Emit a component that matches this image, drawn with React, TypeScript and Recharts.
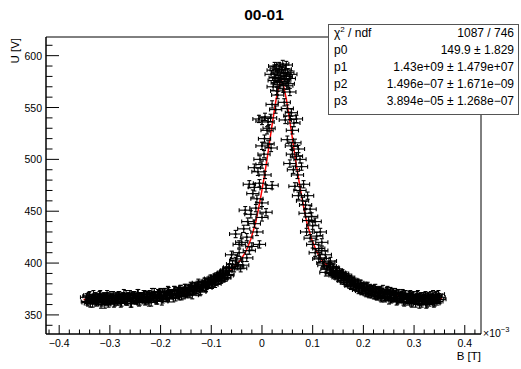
import React from 'react';
import { ComposedChart, Scatter, Line, XAxis, YAxis, ErrorBar, ReferenceArea } from 'recharts';

const title = '00-01';
const xTitle = 'B [T]';
const yTitle = 'U [V]';
const xExponent = '−3';

// measured points [B (10^-3 T), U (V)]
const leftTail: [number, number][] = [
  [-0.346, 367], [-0.343, 362], [-0.34, 369], [-0.337, 364], [-0.334, 361], [-0.331, 366], [-0.328, 368], [-0.325, 363],
  [-0.322, 365], [-0.319, 370], [-0.316, 362], [-0.313, 367], [-0.31, 360], [-0.307, 366], [-0.304, 368], [-0.301, 363],
  [-0.298, 369], [-0.295, 364], [-0.292, 361], [-0.289, 367], [-0.286, 363], [-0.283, 369], [-0.28, 366], [-0.277, 362],
  [-0.274, 368], [-0.271, 365], [-0.268, 370], [-0.265, 363], [-0.262, 367], [-0.259, 361], [-0.256, 366], [-0.253, 369],
  [-0.25, 364], [-0.247, 367], [-0.244, 371], [-0.241, 363], [-0.238, 368], [-0.235, 365], [-0.232, 370], [-0.229, 364],
  [-0.226, 368], [-0.223, 362], [-0.22, 367], [-0.217, 372], [-0.214, 366], [-0.211, 369], [-0.208, 364], [-0.205, 371],
  [-0.202, 367], [-0.199, 369], [-0.196, 365], [-0.193, 372], [-0.19, 368], [-0.187, 366], [-0.184, 373], [-0.181, 369],
  [-0.178, 371], [-0.175, 366], [-0.172, 374], [-0.169, 370], [-0.166, 373], [-0.163, 368], [-0.16, 375], [-0.157, 371],
  [-0.154, 369], [-0.151, 376], [-0.148, 372], [-0.145, 375], [-0.142, 370], [-0.139, 377], [-0.136, 373], [-0.133, 378],
  [-0.13, 374], [-0.127, 379], [-0.124, 376], [-0.121, 373], [-0.118, 380], [-0.115, 377], [-0.112, 382], [-0.109, 378],
  [-0.106, 383], [-0.103, 380], [-0.1, 384], [-0.097, 381], [-0.094, 386], [-0.091, 382], [-0.088, 387], [-0.085, 383],
  [-0.082, 389], [-0.079, 385], [-0.076, 391], [-0.073, 386], [-0.07, 393], [-0.067, 389], [-0.064, 396],
];

const leftTail2: [number, number][] = [
  [-0.3445, 363], [-0.3415, 368], [-0.3385, 361], [-0.3355, 366], [-0.3325, 370], [-0.3295, 364], [-0.3265, 362], [-0.3235, 367],
  [-0.3205, 369], [-0.3175, 360], [-0.3145, 365], [-0.3115, 368], [-0.3085, 363], [-0.3055, 370], [-0.3025, 361], [-0.2995, 367],
  [-0.2965, 364], [-0.2935, 369], [-0.2905, 362], [-0.2875, 368], [-0.2845, 363], [-0.2815, 369], [-0.2785, 361], [-0.2755, 367],
  [-0.2725, 371], [-0.2695, 365], [-0.2665, 363], [-0.2635, 368], [-0.2605, 370], [-0.2575, 361], [-0.2545, 366], [-0.2515, 369],
  [-0.2485, 364], [-0.2455, 371], [-0.2425, 362], [-0.2395, 368], [-0.2365, 366], [-0.2335, 370], [-0.2305, 363], [-0.2275, 369],
  [-0.2245, 364], [-0.2215, 370], [-0.2185, 362], [-0.2155, 368], [-0.2125, 372], [-0.2095, 366], [-0.2065, 364], [-0.2035, 370],
  [-0.2005, 372], [-0.1975, 363], [-0.1945, 369], [-0.1915, 372], [-0.1885, 367], [-0.1855, 374], [-0.1825, 366], [-0.1795, 371],
  [-0.1765, 369], [-0.1735, 374], [-0.1705, 367], [-0.1675, 373], [-0.1645, 369], [-0.1615, 375], [-0.1585, 368], [-0.1555, 373],
  [-0.1525, 376], [-0.1495, 370], [-0.1465, 371], [-0.1435, 376], [-0.1405, 378], [-0.1375, 369], [-0.1345, 375], [-0.1315, 377],
  [-0.1285, 374], [-0.1255, 381], [-0.1225, 372], [-0.1195, 378], [-0.1165, 377], [-0.1135, 382], [-0.1105, 376], [-0.1075, 381],
  [-0.1045, 379], [-0.1015, 385], [-0.0985, 379], [-0.0955, 384], [-0.0925, 380], [-0.0895, 387], [-0.0865, 383], [-0.0835, 388],
  [-0.0805, 384], [-0.0775, 390], [-0.0745, 386], [-0.0715, 392], [-0.0685, 388], [-0.0655, 395],
];

const peak: [number, number][] = [
  [0.018, 582], [0.022, 586], [0.026, 579], [0.028, 588], [0.031, 584], [0.034, 590], [0.036, 581], [0.039, 586],
  [0.041, 592], [0.043, 583], [0.046, 587], [0.048, 580], [0.051, 584], [0.054, 578], [0.057, 582], [0.024, 576],
  [0.045, 577], [0.033, 578], [0.03, 574], [0.038, 575], [0.052, 573], [0.025, 590], [0.048, 591],
  [0.022, 570], [0.029, 566], [0.035, 572], [0.042, 568], [0.049, 571], [0.055, 565], [0.031, 562],
  [0.02, 553], [0.027, 548], [0.044, 555], [0.05, 549], [0.058, 545],
  [-0.006, 539], [0.0, 537], [0.006, 541], [0.012, 536], [0.017, 540], [0.046, 538], [0.055, 542], [0.063, 535], [0.068, 539],
  [0.01, 528], [0.014, 530], [0.06, 528],
  [0.005, 520], [0.012, 515], [0.018, 511], [0.0, 513], [0.05, 519], [0.058, 513], [0.065, 516], [0.072, 510],
  [0.004, 505], [-0.004, 500], [0.068, 503], [0.075, 500], [0.06, 505],
  [-0.015, 492], [-0.008, 488], [0.0, 495], [0.006, 485], [0.055, 496], [0.062, 490], [0.07, 485], [0.078, 493],
  [-0.025, 476], [-0.015, 473], [-0.005, 477], [0.008, 472], [0.02, 475], [0.065, 474], [0.075, 470], [0.082, 476],
  [0.072, 465], [0.08, 460], [0.086, 456], [-0.01, 462], [0.0, 458], [-0.018, 467], [0.09, 465],
  [-0.033, 451], [-0.022, 447], [-0.012, 453], [0.0, 444], [0.008, 449], [0.085, 448], [0.092, 441], [0.098, 445],
  [-0.028, 440], [-0.036, 433], [-0.015, 438], [0.095, 452], [0.1, 436], [0.105, 440],
  [-0.052, 428], [-0.04, 420], [-0.03, 425], [-0.02, 416], [-0.01, 430], [-0.005, 418], [0.088, 430], [0.095, 424],
  [0.1, 418], [0.108, 426], [0.112, 414], [0.118, 420], [-0.045, 418], [0.115, 430],
  [-0.06, 408], [-0.052, 402], [-0.045, 410], [-0.038, 398], [-0.03, 405], [-0.025, 412], [-0.042, 395], [0.105, 410],
  [0.112, 404], [0.12, 400], [0.125, 408], [0.13, 396], [0.135, 402], [0.118, 412],
  [-0.058, 399], [-0.05, 404], [-0.048, 397], [-0.055, 395], [0.122, 398], [0.128, 394], [0.132, 401], [0.115, 405], [0.126, 391],
];

const rightTail: [number, number][] = [
  [0.135, 397], [0.138, 390], [0.141, 395], [0.144, 388], [0.147, 393], [0.15, 386], [0.153, 391], [0.156, 385],
  [0.159, 390], [0.162, 383], [0.165, 388], [0.168, 381], [0.171, 386], [0.174, 379], [0.177, 384], [0.18, 378],
  [0.183, 382], [0.186, 376], [0.189, 381], [0.192, 375], [0.195, 380], [0.198, 374], [0.201, 378], [0.204, 372],
  [0.207, 377], [0.21, 371], [0.213, 376], [0.216, 370], [0.219, 375], [0.222, 369], [0.225, 374], [0.228, 368],
  [0.231, 373], [0.234, 367], [0.237, 372], [0.24, 369], [0.243, 366], [0.246, 373], [0.249, 367], [0.252, 371],
  [0.255, 365], [0.258, 372], [0.261, 366], [0.264, 370], [0.267, 364], [0.27, 371], [0.273, 365], [0.276, 369],
  [0.279, 363], [0.282, 370], [0.285, 366], [0.288, 363], [0.291, 369], [0.294, 362], [0.297, 368], [0.3, 365],
  [0.303, 361], [0.306, 369], [0.309, 363], [0.312, 367], [0.315, 361], [0.318, 368], [0.321, 364], [0.324, 360],
  [0.327, 367], [0.33, 362], [0.333, 369], [0.336, 364], [0.339, 361], [0.342, 368], [0.345, 363], [0.348, 370],
  [0.351, 365],
];

const rightTail2: [number, number][] = [
  [0.1365, 391], [0.1395, 396], [0.1425, 389], [0.1455, 393], [0.1485, 392], [0.1515, 387], [0.1545, 389], [0.1575, 388],
  [0.1605, 383], [0.1635, 387], [0.1665, 381], [0.1695, 385], [0.1725, 383], [0.1755, 378], [0.1785, 383], [0.1815, 377],
  [0.1845, 380], [0.1875, 379], [0.1905, 374], [0.1935, 380], [0.1965, 373], [0.1995, 377], [0.2025, 376], [0.2055, 371],
  [0.2085, 378], [0.2115, 370], [0.2145, 374], [0.2175, 375], [0.2205, 369], [0.2235, 376], [0.2265, 368], [0.2295, 372],
  [0.2325, 374], [0.2355, 366], [0.2385, 375], [0.2415, 367], [0.2445, 371], [0.2475, 374], [0.2505, 364], [0.2535, 373],
  [0.2565, 366], [0.2595, 370], [0.2625, 372], [0.2655, 363], [0.2685, 371], [0.2715, 366], [0.2745, 368], [0.2775, 371],
  [0.2805, 362], [0.2835, 370], [0.2865, 365], [0.2895, 367], [0.2925, 370], [0.2955, 361], [0.2985, 369], [0.3015, 364],
  [0.3045, 366], [0.3075, 370], [0.3105, 360], [0.3135, 368], [0.3165, 363], [0.3195, 366], [0.3225, 369], [0.3255, 361],
  [0.3285, 368], [0.3315, 364], [0.3345, 366], [0.3375, 370], [0.3405, 362], [0.3435, 369], [0.3465, 365], [0.3495, 367],
];

const errB = 0.012;
const errU = 3.5;

// fitted curve
const fitB = [
  -0.352, -0.322, -0.282, -0.242, -0.202, -0.162, -0.142, -0.122, -0.102, -0.082, -0.062, -0.052, -0.042, -0.032,
  -0.022, -0.012, -0.007, -0.002, 0.003, 0.008, 0.013, 0.018, 0.023, 0.028, 0.033, 0.038, 0.043, 0.048, 0.053, 0.058,
  0.063, 0.068, 0.073, 0.078, 0.083, 0.088, 0.098, 0.108, 0.118, 0.128, 0.138, 0.158, 0.178, 0.198, 0.218, 0.238,
  0.278, 0.318, 0.355,
];
const fitU = [
  364.8, 365, 365.5, 366.5, 368, 371, 373, 376, 380, 386, 393, 398, 403, 411,
  423, 440, 452, 465, 479, 494, 510, 527, 543, 558, 570, 577, 570, 558, 543, 527,
  510, 494, 479, 465, 452, 440, 423, 411, 403, 398, 393, 386, 380, 376, 373, 371,
  368, 366.5, 365.5,
];

const xDomain = [-0.426, 0.432];
const yDomain = [331.6, 618];
const xTicks = [
  -0.42, -0.4, -0.38, -0.36, -0.34, -0.32, -0.3, -0.28, -0.26, -0.24, -0.22, -0.2, -0.18, -0.16, -0.14, -0.12, -0.1,
  -0.08, -0.06, -0.04, -0.02, 0, 0.02, 0.04, 0.06, 0.08, 0.1, 0.12, 0.14, 0.16, 0.18, 0.2, 0.22, 0.24, 0.26, 0.28,
  0.3, 0.32, 0.34, 0.36, 0.38, 0.4, 0.42,
];
const xMajor = [-0.4, -0.3, -0.2, -0.1, 0, 0.1, 0.2, 0.3, 0.4];
const xLabels = ['−0.4', '−0.3', '−0.2', '−0.1', '0', '0.1', '0.2', '0.3', '0.4'];
const yTicks = [340, 350, 360, 370, 380, 390, 400, 410, 420, 430, 440, 450, 460, 470, 480, 490, 500, 510, 520, 530, 540, 550, 560, 570, 580, 590, 600, 610];
const yMajor = [350, 400, 450, 500, 550, 600];
const yLabels = ['350', '400', '450', '500', '550', '600'];

const statNames = ['p0', 'p1', 'p2', 'p3'];
const statValues = ['149.9 ± 1.829', '1.43e+09 ± 1.479e+07', '1.496e−07 ± 1.671e−09', '3.894e−05 ± 1.268e−07'];
const chi2Value = '1087 / 746';

const FONT = "'Liberation Sans', Arial, Helvetica, sans-serif";

const XTick = (props: any) => {
  const { x, y, payload } = props;
  const idx = xMajor.findIndex((m) => Math.abs(m - payload.value) < 1e-9);
  const len = idx >= 0 ? 9 : 4.5;
  return (
    <g>
      <line x1={x} y1={y} x2={x} y2={y - len} stroke="#000" strokeWidth={1} />
      {idx >= 0 && (
        <text x={x} y={y + 13} textAnchor="middle" fontSize={10.5} fontFamily={FONT} fill="#000">
          {xLabels[idx]}
        </text>
      )}
    </g>
  );
};

const YTick = (props: any) => {
  const { x, y, payload } = props;
  const idx = yMajor.findIndex((m) => Math.abs(m - payload.value) < 1e-9);
  const len = idx >= 0 ? 13 : 6.5;
  return (
    <g>
      <line x1={x} y1={y} x2={x + len} y2={y} stroke="#000" strokeWidth={1} />
      {idx >= 0 && (
        <text x={x - 4} y={y + 4} textAnchor="end" fontSize={10.5} fontFamily={FONT} fill="#000">
          {yLabels[idx]}
        </text>
      )}
    </g>
  );
};

const Marker = (props: any) => {
  const { cx, cy } = props;
  return <rect x={cx - 1} y={cy - 1} width={2} height={2} fill="#000" />;
};

export default function App() {
  const scatterData = [...leftTail, ...leftTail2, ...peak, ...rightTail, ...rightTail2].map(([b, u]) => ({
    b,
    u,
    eb: errB,
    eu: errU,
  }));
  const fitData = fitB.map((b, i) => ({ b, u: fitU[i] }));
  return (
    <div style={{ position: 'absolute', left: 0, top: 0, width: 521, height: 369, background: '#fff' }}>
      <ComposedChart width={521} height={369} margin={{ top: 37, right: 40, bottom: 0, left: 6 }}>
        <XAxis
          type="number"
          dataKey="b"
          domain={xDomain}
          allowDataOverflow
          ticks={xTicks}
          interval={0}
          tick={XTick}
          tickLine={false}
          tickSize={0}
          tickMargin={0}
          height={35}
          axisLine={{ stroke: '#000' }}
        />
        <YAxis
          type="number"
          dataKey="u"
          domain={yDomain}
          allowDataOverflow
          ticks={yTicks}
          interval={0}
          tick={YTick}
          tickLine={false}
          tickSize={0}
          tickMargin={0}
          width={40}
          axisLine={{ stroke: '#000' }}
        />
        <ReferenceArea
          x1={xDomain[0]}
          x2={xDomain[1]}
          y1={yDomain[0]}
          y2={yDomain[1]}
          fill="none"
          fillOpacity={0}
          stroke="#000"
          strokeWidth={1}
          ifOverflow="visible"
        />
        <Line
          data={fitData}
          dataKey="u"
          type="linear"
          stroke="#ff0000"
          strokeWidth={1.5}
          dot={false}
          activeDot={false}
          isAnimationActive={false}
        />
        <Scatter data={scatterData} dataKey="u" shape={Marker} isAnimationActive={false}>
          <ErrorBar dataKey="eb" direction="x" width={2} stroke="#000" strokeWidth={1.1} />
          <ErrorBar dataKey="eu" direction="y" width={2} stroke="#000" strokeWidth={1.1} />
        </Scatter>
      </ComposedChart>
      <svg
        width={521}
        height={369}
        style={{ position: 'absolute', left: 0, top: 0, pointerEvents: 'none' }}
        fontFamily={FONT}
      >
        <text x={264} y={20} textAnchor="middle" fontSize={15.5} fontWeight="bold" fill="#000">
          {title}
        </text>
        <text transform="translate(19,38) rotate(-90)" textAnchor="end" fontSize={11.5} fill="#000">
          {yTitle}
        </text>
        <text x={481} y={360} textAnchor="end" fontSize={11.5} fill="#000">
          {xTitle}
        </text>
        <text x={483} y={337} fontSize={10.5} fill="#000">
          ×10<tspan dy={-5} fontSize={7.5}>{xExponent}</tspan>
        </text>
        <rect x={328.5} y={24.5} width={190} height={90} fill="#fff" stroke="#555" strokeWidth={1} />
        <text x={334} y={37} fontSize={12} fill="#000">
          χ<tspan dy={-5} fontSize={8}>2</tspan>
          <tspan dy={5}> / ndf</tspan>
        </text>
        <text x={514} y={37} fontSize={12} textAnchor="end" fill="#000">
          {chi2Value}
        </text>
        {statNames.map((n, i) => (
          <g key={n}>
            <text x={334} y={54 + i * 17} fontSize={12} fill="#000">
              {n}
            </text>
            <text x={514} y={54 + i * 17} fontSize={12} textAnchor="end" fill="#000">
              {statValues[i]}
            </text>
          </g>
        ))}
      </svg>
    </div>
  );
}
